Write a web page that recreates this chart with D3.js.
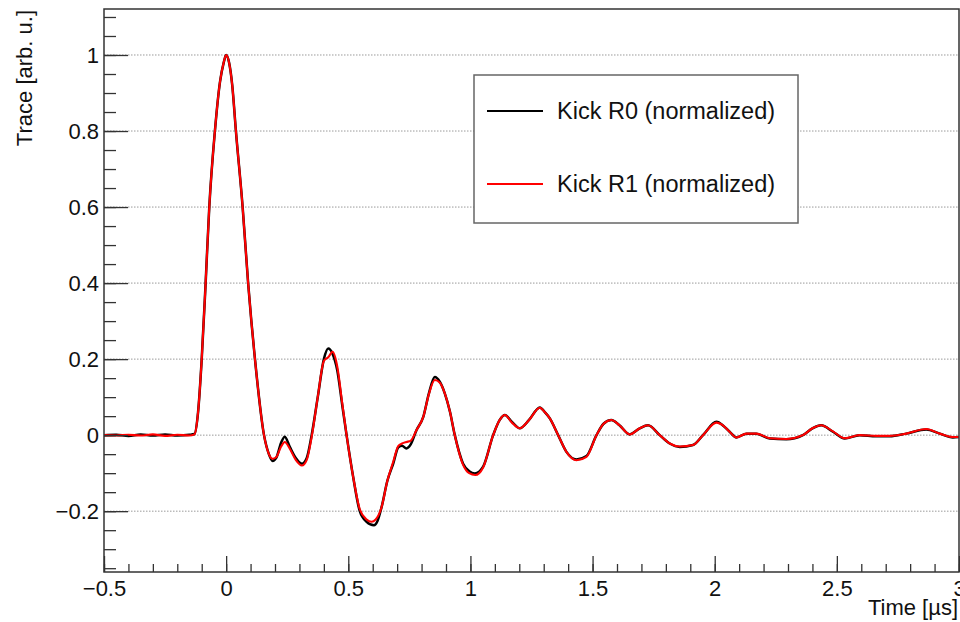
<!DOCTYPE html>
<html>
<head>
<meta charset="utf-8">
<script src="https://cdn.jsdelivr.net/npm/d3@7"></script>
<style>
  body { margin: 0; background: #fff; }
  svg { display: block; font-family: "Liberation Sans", Arial, sans-serif; }
</style>
</head>
<body>
<svg id="chart" width="960" height="622"></svg>
<script>
// ---------------------------//
//      DATA                  //
// ---------------------------//

// Kick R0 (black)
const timeR0 = [-0.5, -0.45, -0.4, -0.35, -0.3, -0.25, -0.2, -0.15, -0.13, -0.115,
  -0.1, -0.084, -0.069, -0.046, -0.025, -0.01, 0.0, 0.012, 0.025, 0.04,
  0.0675, 0.09, 0.118, 0.155, 0.175, 0.19, 0.205, 0.225, 0.24, 0.26,
  0.285, 0.31, 0.33, 0.35, 0.375, 0.4, 0.418, 0.435, 0.455, 0.475,
  0.493, 0.52, 0.547, 0.575, 0.605, 0.62, 0.636, 0.66, 0.684, 0.705,
  0.72, 0.738, 0.755, 0.779, 0.807, 0.83, 0.854, 0.875, 0.895, 0.916,
  0.936, 0.97, 0.995, 1.018, 1.052, 1.093, 1.12, 1.141, 1.17, 1.202,
  1.24, 1.284, 1.305, 1.325, 1.359, 1.393, 1.434, 1.475, 1.516, 1.545,
  1.577, 1.61, 1.652, 1.693, 1.727, 1.775, 1.816, 1.857, 1.911, 1.952,
  2.007, 2.035, 2.061, 2.089, 2.13, 2.17, 2.225, 2.293, 2.361, 2.4,
  2.436, 2.484, 2.532, 2.593, 2.661, 2.716, 2.784, 2.866, 2.921, 2.975, 3.0];
const traceR0 = [0, 0.001, -0.002, 0.002, -0.001, 0.002, -0.001, 0.001, 0.003, 0.06,
  0.2, 0.4, 0.6, 0.8, 0.93, 0.98, 1.0, 0.98, 0.92, 0.8,
  0.6, 0.4, 0.2, 0.0, -0.05, -0.068, -0.06, -0.02, -0.004, -0.03,
  -0.06, -0.075, -0.06, 0.0, 0.1, 0.2, 0.228, 0.215, 0.17, 0.08,
  0.0, -0.11, -0.2, -0.228, -0.237, -0.225, -0.19, -0.12, -0.075, -0.032,
  -0.028, -0.035, -0.025, 0.013, 0.048, 0.11, 0.153, 0.14, 0.11, 0.062,
  0.0, -0.075, -0.095, -0.101, -0.083, 0.0, 0.04, 0.053, 0.035, 0.018,
  0.04, 0.073, 0.06, 0.044, 0.0, -0.044, -0.064, -0.055, 0.0, 0.03,
  0.04, 0.026, 0.002, 0.018, 0.026, 0.0, -0.022, -0.031, -0.026, 0.0,
  0.035, 0.025, 0.009, -0.006, 0.004, 0.004, -0.009, -0.011, 0.0, 0.018,
  0.026, 0.009, -0.009, 0.0, -0.003, -0.003, 0.004, 0.015, 0.004, -0.006, -0.005];

// Kick R1 (red)
const timeR1 = [-0.5, -0.45, -0.4, -0.35, -0.3, -0.25, -0.2, -0.15, -0.13, -0.115,
  -0.1, -0.084, -0.069, -0.046, -0.025, -0.01, 0.0, 0.012, 0.025, 0.04,
  0.0675, 0.09, 0.118, 0.155, 0.175, 0.19, 0.205, 0.225, 0.24, 0.26,
  0.285, 0.31, 0.33, 0.35, 0.375, 0.4, 0.418, 0.436, 0.455, 0.475,
  0.493, 0.52, 0.547, 0.575, 0.595, 0.612, 0.636, 0.66, 0.684, 0.705,
  0.72, 0.738, 0.755, 0.779, 0.807, 0.83, 0.854, 0.875, 0.895, 0.916,
  0.936, 0.97, 0.995, 1.02, 1.052, 1.093, 1.12, 1.141, 1.17, 1.202,
  1.24, 1.284, 1.305, 1.325, 1.359, 1.393, 1.434, 1.475, 1.516, 1.545,
  1.577, 1.61, 1.652, 1.693, 1.727, 1.775, 1.816, 1.857, 1.911, 1.952,
  2.007, 2.035, 2.061, 2.089, 2.13, 2.17, 2.225, 2.293, 2.361, 2.4,
  2.436, 2.484, 2.532, 2.593, 2.661, 2.716, 2.784, 2.866, 2.921, 2.975, 3.0];
const traceR1 = [0, -0.001, 0.001, -0.001, 0.002, -0.002, 0.001, -0.001, 0.002, 0.06,
  0.2, 0.4, 0.6, 0.8, 0.93, 0.98, 1.0, 0.98, 0.92, 0.8,
  0.6, 0.4, 0.2, 0.0, -0.05, -0.062, -0.058, -0.03, -0.018, -0.035,
  -0.065, -0.08, -0.065, -0.005, 0.1, 0.195, 0.205, 0.219, 0.18, 0.085,
  0.0, -0.11, -0.195, -0.222, -0.228, -0.222, -0.19, -0.12, -0.07, -0.028,
  -0.022, -0.018, -0.015, 0.013, 0.048, 0.108, 0.145, 0.138, 0.11, 0.062,
  0.0, -0.078, -0.1, -0.105, -0.085, 0.0, 0.04, 0.053, 0.033, 0.018,
  0.04, 0.072, 0.06, 0.044, 0.0, -0.044, -0.066, -0.057, 0.0, 0.03,
  0.04, 0.026, 0.002, 0.018, 0.026, 0.0, -0.022, -0.03, -0.026, 0.0,
  0.033, 0.025, 0.009, -0.006, 0.004, 0.004, -0.008, -0.01, 0.0, 0.018,
  0.026, 0.01, -0.008, 0.0, -0.002, -0.002, 0.004, 0.016, 0.004, -0.005, -0.005];

const xMajorTicks = [-0.5, 0, 0.5, 1, 1.5, 2, 2.5, 3];
const yMajorTicks = [-0.2, 0, 0.2, 0.4, 0.6, 0.8, 1];
const seriesNames = ["Kick R0 (normalized)", "Kick R1 (normalized)"];
const seriesColors = ["#000000", "#ff0000"];

// ---------------------------//
//      LAYOUT                //
// ---------------------------//
const padLeft = 104, padRight = 959, padTop = 9, padBottom = 572;

const svg = d3.select("#chart");
const x = d3.scaleLinear().domain([-0.5, 3]).range([padLeft, padRight]);
const y = d3.scaleLinear().domain([-0.36, 1.121]).range([padBottom, padTop]);

// horizontal dotted grid
svg.append("g")
  .selectAll("line")
  .data(yMajorTicks)
  .enter()
  .append("line")
  .attr("x1", padLeft).attr("x2", padRight)
  .attr("y1", d => y(d)).attr("y2", d => y(d))
  .attr("stroke", "#9a9a9a")
  .attr("stroke-width", 1)
  .attr("stroke-dasharray", "1.5,1.5");

// traces
const line = d3.line()
  .x(d => x(d[0]))
  .y(d => y(d[1]))
  .curve(d3.curveMonotoneX);

const r0 = timeR0.map((t, i) => [t, traceR0[i]]);
const r1 = timeR1.map((t, i) => [t, traceR1[i]]);

svg.append("path")
  .datum(r0)
  .attr("d", line)
  .attr("fill", "none")
  .attr("stroke", seriesColors[0])
  .attr("stroke-width", 2.5);

svg.append("path")
  .datum(r1)
  .attr("d", line)
  .attr("fill", "none")
  .attr("stroke", seriesColors[1])
  .attr("stroke-width", 2.1);

// axes (ticks point inward like ROOT)
svg.append("g")
  .attr("transform", "translate(0," + padBottom + ")")
  .call(d3.axisBottom(x).tickValues(xMajorTicks).tickSize(-16).tickPadding(8)
    .tickFormat(d3.format("")));
svg.append("g")
  .attr("transform", "translate(0," + padBottom + ")")
  .call(d3.axisBottom(x).tickValues(d3.range(-0.5, 3.001, 0.1)).tickSize(-8).tickFormat(""));

svg.append("g")
  .attr("transform", "translate(" + padLeft + ",0)")
  .call(d3.axisLeft(y).tickValues(yMajorTicks).tickSize(-24).tickPadding(5)
    .tickFormat(d3.format("")));
svg.append("g")
  .attr("transform", "translate(" + padLeft + ",0)")
  .call(d3.axisLeft(y).tickValues(d3.range(-0.35, 1.101, 0.05)).tickSize(-12).tickFormat(""));

svg.selectAll(".domain").remove();
svg.selectAll(".tick line").attr("stroke", "#333").attr("stroke-width", 1.3);
svg.selectAll(".tick text")
  .attr("fill", "#111")
  .style("font-size", "22px")
  .style("font-family", "'Liberation Sans', Arial, sans-serif");

// frame
svg.append("rect")
  .attr("x", padLeft).attr("y", padTop)
  .attr("width", padRight - padLeft).attr("height", padBottom - padTop)
  .attr("fill", "none")
  .attr("stroke", "#333")
  .attr("stroke-width", 1.5);

// axis titles
svg.append("text")
  .attr("x", 958).attr("y", 615)
  .attr("text-anchor", "end")
  .style("font-size", "22px")
  .attr("fill", "#111")
  .text("Time [\u00b5s]");

svg.append("text")
  .attr("transform", "translate(32,10) rotate(-90)")
  .attr("text-anchor", "end")
  .style("font-size", "22px")
  .attr("fill", "#111")
  .text("Trace [arb. u.]");

// legend
const legend = svg.append("g");
legend.append("rect")
  .attr("x", 474).attr("y", 75)
  .attr("width", 324).attr("height", 148)
  .attr("fill", "#fff")
  .attr("stroke", "#666")
  .attr("stroke-width", 1.5);

const legendY = [111, 184];
seriesNames.forEach((name, i) => {
  legend.append("line")
    .attr("x1", 487).attr("x2", 543)
    .attr("y1", legendY[i]).attr("y2", legendY[i])
    .attr("stroke", seriesColors[i])
    .attr("stroke-width", 2);
  legend.append("text")
    .attr("x", 557).attr("y", legendY[i] + 8)
    .style("font-size", "23.5px")
    .attr("fill", "#111")
    .text(name);
});
</script>
</body>
</html>
